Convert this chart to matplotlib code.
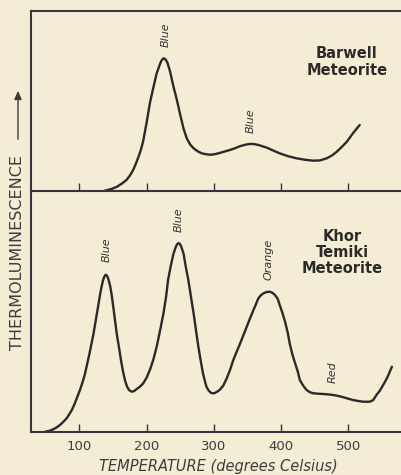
import matplotlib
matplotlib.use("Agg")
import matplotlib.pyplot as plt

# Barwell meteorite glow curve (temperature in deg C, intensity in arbitrary units)
barwell_temp = [138, 148, 156, 164, 170, 175, 180, 184, 188, 192, 195, 200, 205, 210, 215,
                219, 222, 225, 228, 231, 235, 240, 245, 250, 255, 260, 265, 270, 276, 282,
                288, 294, 300, 307, 315, 324, 332, 339, 347, 353, 359, 366, 372, 379, 388,
                398, 410, 423, 435, 448, 458, 468, 476, 483, 490, 498, 507, 517]
barwell_glow = [0, 1.8, 4, 7.5, 10.7, 15, 20.7, 27, 34, 42, 50, 68, 88, 103, 117.4,
                125, 130, 132.4, 131.5, 128, 119, 104, 91, 76, 62, 52, 46, 42.4, 39.4, 37.4,
                36.5, 36, 36.3, 37.4, 39, 40.7, 42.6, 44.5, 46, 46.7, 46.7, 45.8, 44.5, 43, 40.3,
                37.4, 34.6, 32.4, 31, 30, 30.3, 32.4, 35.3, 39, 43.5, 49, 57.4, 65.7]

# Khor Temiki meteorite glow curve
khor_temp = [49, 55, 61, 66, 71, 76, 81, 85, 89, 93, 97, 101, 104, 108, 111, 115, 118,
             121, 124, 128, 131, 133, 135, 137, 139, 141, 143, 146, 148, 151, 154, 156,
             159, 162, 165, 168, 171, 174, 178, 181, 184, 190, 195, 200, 205, 210, 215,
             220, 225, 229, 232, 236, 240, 243, 245, 247, 249, 251, 253, 255, 258, 262,
             266, 270, 274, 277, 281, 284, 287, 289, 292, 295, 298, 301, 305, 309, 314,
             319, 324, 329, 334, 339, 344, 349, 354, 359, 363, 366, 370, 374, 378, 383,
             387, 391, 395, 398, 402, 406, 410, 413, 417, 421, 425, 428, 433, 438, 443,
             448, 455, 463, 470, 478, 486, 493, 500, 507, 515, 522, 527, 532, 537, 542,
             547, 552, 558, 565]
khor_glow = [0, 0.8, 2.4, 4.2, 6.7, 9.8, 13.4, 17.5, 22, 28, 35, 42, 48, 57, 66, 78, 88,
             98, 110, 126, 138, 145, 151, 155, 157, 156, 153, 145, 137, 122, 106, 96,
             84, 71, 60, 51, 45, 41.5, 40, 40.5, 42, 45, 48.4, 54, 62, 72, 85,
             101, 118, 135, 152, 166, 178, 184, 187, 188.5, 188.2, 186, 182, 178, 166, 152,
             135, 118, 99, 85, 69, 58, 50, 45, 41.5, 39.2, 38.4, 38.6, 40, 42, 46,
             53, 61.5, 71.7, 80, 88, 96.5, 105, 113.5, 121.7, 128, 133, 136.5, 138.4, 139.6, 140,
             139, 136.7, 133, 126.7, 119, 110, 99, 88, 77, 68.4, 60, 51.7, 46, 41.7, 39.5,
             38.4, 38, 37.7, 37.3, 36.7, 35.6, 34.4, 33, 31.7, 30.7, 30, 30, 30, 31.5, 36.7,
             41, 46.7, 54, 65]

tick_values = [100, 200, 300, 400, 500]

# peak colour labels: (text, temperature, height)
barwell_peaks = [("Blue", 229, 156), ("Blue", 355, 70)]
khor_peaks = [("Blue", 140, 182), ("Blue", 248, 212), ("Orange", 382, 172), ("Red", 477, 60)]

paper = "#f4ecd5"
ink = "#2a2a2a"
axis_col = "#35353f"

fig = plt.figure(figsize=(4.02, 4.75), dpi=100, facecolor=paper)
ax_top = fig.add_axes([31 / 402, 1 - 190.7 / 475, 371 / 402, 179.7 / 475])
ax_bot = fig.add_axes([31 / 402, 1 - 431.7 / 475, 371 / 402, 241 / 475])

for ax in (ax_top, ax_bot):
    ax.set_facecolor("none")
    ax.set_xlim(28, 580)
    ax.spines["right"].set_visible(False)
    for s in ("left", "bottom", "top"):
        ax.spines[s].set_linewidth(1.5)
        ax.spines[s].set_color(axis_col)
    ax.set_yticks([])
    ax.set_xticks(tick_values)
    ax.tick_params(axis="x", direction="in", length=6, width=1, color=axis_col,
                   labelsize=9.5, labelcolor="#3c3c3c", pad=6)

ax_bot.spines["top"].set_visible(False)
ax_top.tick_params(axis="x", labelbottom=False)

ax_top.set_ylim(0, 179.7)
ax_bot.set_ylim(0, 241)

ax_top.plot(barwell_temp, barwell_glow, color=ink, lw=1.7, solid_capstyle="round",
            solid_joinstyle="round")
ax_bot.plot(khor_temp, khor_glow, color=ink, lw=1.7, solid_capstyle="round",
            solid_joinstyle="round")

for ax, peaks in ((ax_top, barwell_peaks), (ax_bot, khor_peaks)):
    for txt, t, h in peaks:
        ax.text(t, h, txt, rotation=90, style="italic", fontsize=8, color="#333333",
                ha="center", va="center")

ax_top.text(498, 129, "Barwell\nMeteorite", fontsize=10.5, fontweight="bold", color=ink,
            ha="center", va="center", linespacing=1.15)
ax_bot.text(491, 179, "Khor\nTemiki\nMeteorite", fontsize=10.5, fontweight="bold", color=ink,
            ha="center", va="center", linespacing=1.1)

fig.text(218 / 402, 1 - 467 / 475, "TEMPERATURE (degrees Celsius)", style="italic",
         fontsize=10.5, color="#3c3c3c", ha="center", va="center")
fig.text(18 / 402, 1 - 253 / 475, "THERMOLUMINESCENCE", rotation=90, fontsize=11.5,
         color="#3c3c3c", ha="center", va="center")
fig.add_artist(matplotlib.patches.FancyArrowPatch(
    (18 / 402, 1 - 142 / 475), (18 / 402, 1 - 88 / 475), transform=fig.transFigure,
    arrowstyle="-|>,head_length=5,head_width=2.2", lw=1, color="#3c3c3c"))

fig.savefig("out.png", dpi=100, facecolor=paper)
